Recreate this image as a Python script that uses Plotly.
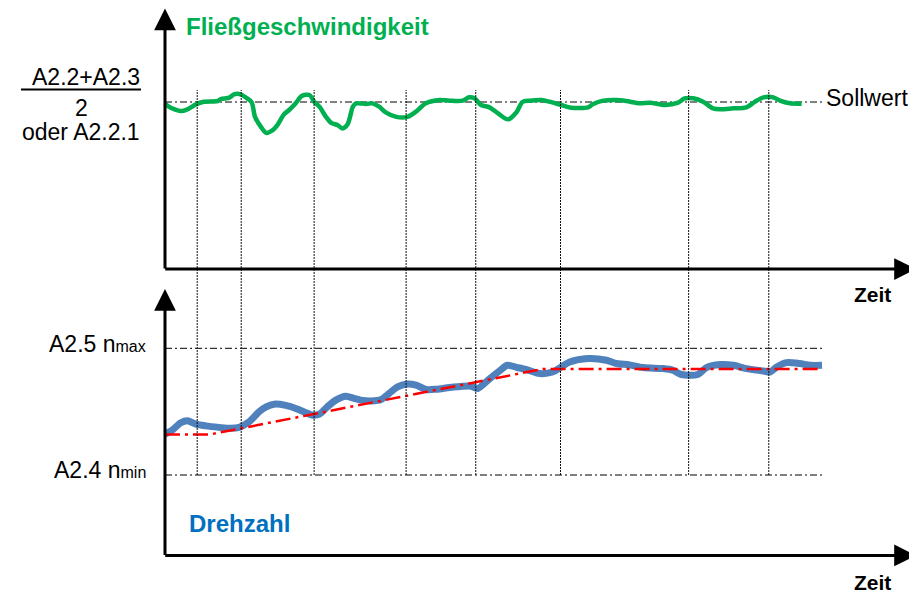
import plotly.graph_objects as go

# ---------------- data ----------------
# time in % of the recorded interval (0 .. 100)
flow_t = [0, 0.6, 2.4, 3.4, 4.7, 5.9, 8.0, 8.5, 9.8, 10.5, 11.5, 12.5, 13.2, 13.7, 14.6,
          15.4, 16.4, 17.1, 18.1, 18.9, 19.9, 20.8, 22.0, 22.7, 23.5, 24.5, 25.3, 26.3,
          27.0, 27.8, 28.6, 29.1, 30.6, 31.6, 32.6, 33.6, 35.2, 36.9, 38.2, 39.7, 41.8,
          43.3, 45.3, 46.3, 47.1, 48.1, 49.4, 50.7, 52.2, 53.5, 54.4, 55.5, 57.3, 58.5,
          60.3, 61.8, 64.4, 65.1, 66.7, 68.7, 70.2, 72.3, 73.8, 76.1, 78.1, 79.1, 80.4,
          81.9, 83.4, 84.5, 86.5, 88.5, 89.8, 91.1, 92.6, 93.6, 95.1, 96.9]
# flow velocity in % of the set value (Sollwert = 100)
flow_v = [99.2, 97.2, 94.6, 95.6, 98.6, 100.2, 100.6, 101.8, 102.6, 104.6, 104.6, 102.2,
          99.8, 91.1, 85.1, 81.5, 83.1, 86.1, 92.6, 95.2, 99.2, 103.6, 104.2, 100.2, 97.2,
          91.1, 87.5, 86.1, 84.2, 86.7, 97.2, 99.2, 98.8, 99.2, 97.2, 93.8, 91.1, 91.1,
          94.2, 99.2, 101.2, 100.8, 100.8, 102.8, 102.2, 98.2, 96.8, 93.2, 89.6, 93.9,
          100.0, 100.8, 101.2, 100.2, 98.2, 96.6, 96.8, 98.6, 100.8, 101.2, 100.6, 99.2,
          99.6, 98.2, 99.6, 102.2, 102.2, 100.2, 96.2, 95.6, 96.2, 96.8, 100.2, 102.8,
          102.8, 100.8, 99.2, 99.0]

speed_t = [0, 1.1, 2.4, 3.4, 4.7, 6.2, 8.2, 10.0, 11.3, 12.8, 14.3, 15.4, 16.6, 18.4,
           19.9, 21.2, 22.5, 23.5, 24.7, 26.0, 27.5, 28.8, 29.8, 31.4, 32.9, 34.1, 35.4,
           36.7, 38.2, 39.7, 41.3, 43.3, 45.3, 46.6, 47.6, 48.6, 49.9, 50.9, 52.1, 53.5,
           55.0, 57.0, 59.0, 60.3, 61.6, 64.4, 67.2, 68.7, 70.7, 72.8, 75.8, 77.3, 78.6,
           81.1, 82.4, 84.5, 86.5, 88.5, 91.1, 92.1, 93.1, 94.6, 96.6, 98.2, 100]
# speed in % between n_min (0) and n_max (100)
speed_n = [32.3, 35.4, 41.2, 42.8, 40.2, 38.8, 37.6, 36.8, 37.6, 42.0, 49.8, 53.8, 55.9,
           54.9, 52.5, 49.8, 47.2, 48.0, 53.8, 59.1, 62.2, 60.4, 59.1, 58.5, 59.6, 64.3,
           69.5, 71.7, 70.9, 67.5, 67.7, 69.1, 70.1, 70.1, 68.3, 72.2, 78.0, 82.1, 86.6,
           85.0, 83.2, 80.1, 81.3, 85.3, 89.2, 91.9, 90.6, 88.0, 86.9, 84.8, 84.0, 82.7,
           79.3, 79.3, 84.8, 87.2, 86.6, 84.0, 82.1, 81.3, 85.3, 88.7, 88.0, 86.6, 86.6]

target_t = [0, 6.85, 57.5, 100]
target_n = [32.0, 32.0, 83.7, 83.7]

mark_times = [4.9, 11.6, 22.7, 36.7, 47.3, 60.2, 79.7, 91.9]

SOLLWERT = 100
N_MIN, N_MAX = 0, 100
T_END = 100

# ---------------- styling / layout ----------------
W, H = 909, 593
FONT = "Liberation Sans, Arial, sans-serif"
GREEN = "#00B050"
BLUE_TXT = "#0070C0"
BLUE = "#4F81BD"
RED = "#FF0000"

# axis placement on the page (pixels) and scales (pixels per unit)
X0_PX, X_SCALE = 165, 6.57
Y1_ZERO_PX, Y1_SCALE = 269, 1.67
Y2_ZERO_PX, Y2_SCALE = 475, 1.267

X_RANGE = [-X0_PX / X_SCALE, (W - X0_PX) / X_SCALE]
Y1_RANGE = [(Y1_ZERO_PX - H) / Y1_SCALE, Y1_ZERO_PX / Y1_SCALE]
Y2_RANGE = [(Y2_ZERO_PX - H) / Y2_SCALE, Y2_ZERO_PX / Y2_SCALE]


def to_paper(v, r):
    return (v - r[0]) / (r[1] - r[0])


fig = go.Figure()

# reference lines
ref_dash = "7px,3px,2px,3px"
fig.add_trace(go.Scatter(x=[0, T_END], y=[SOLLWERT, SOLLWERT], mode="lines",
                         line=dict(color="black", width=1, dash=ref_dash),
                         xaxis="x", yaxis="y", hoverinfo="skip"))
for n in (N_MIN, N_MAX):
    fig.add_trace(go.Scatter(x=[0, T_END], y=[n, n], mode="lines",
                             line=dict(color="black", width=1, dash=ref_dash),
                             xaxis="x", yaxis="y2", hoverinfo="skip"))

# vertical time markers spanning both panels
top_end = to_paper(107.2, Y1_RANGE)
bot_end = to_paper(N_MIN, Y2_RANGE)
for t in mark_times:
    fig.add_shape(type="line", xref="x", yref="paper", x0=t, x1=t,
                  y0=bot_end, y1=top_end,
                  line=dict(color="#111111", width=1, dash="2px,1px"))

# curves
fig.add_trace(go.Scatter(x=flow_t, y=flow_v, mode="lines",
                         line=dict(color=GREEN, width=4.5, shape="spline", smoothing=0.8),
                         xaxis="x", yaxis="y"))
fig.add_trace(go.Scatter(x=speed_t, y=speed_n, mode="lines",
                         line=dict(color=BLUE, width=7, shape="spline", smoothing=0.8),
                         xaxis="x", yaxis="y2"))
fig.add_trace(go.Scatter(x=target_t, y=target_n, mode="lines",
                         line=dict(color=RED, width=2.5, dash="15px,5px,3px,5px"),
                         xaxis="x", yaxis="y2"))

# axes with arrow heads (time arrows run past the right edge, as in the original)
arrow = dict(showarrow=True, arrowhead=2, arrowsize=1.45, arrowwidth=3,
             arrowcolor="black", text="", standoff=0, startstandoff=0)
fig.add_annotation(x=114.3, y=0, ax=-0.2, ay=0, xref="x", yref="y",
                   axref="x", ayref="y", **arrow)
fig.add_annotation(x=0, y=156.0, ax=0, ay=-0.6, xref="x", yref="y",
                   axref="x", ayref="y", **arrow)
fig.add_annotation(x=114.3, y=-63.5, ax=-0.2, ay=-63.5, xref="x", yref="y2",
                   axref="x", ayref="y2", **arrow)
fig.add_annotation(x=0, y=146.8, ax=0, ay=-64.3, xref="x", yref="y2",
                   axref="x", ayref="y2", **arrow)


def label(text, px, py, size, color="black", xanchor="left"):
    fig.add_annotation(x=px / W, y=1 - py / H, xref="paper", yref="paper",
                       text=text, showarrow=False, xanchor=xanchor, yanchor="middle",
                       font=dict(family=FONT, size=size, color=color))


label("<b>Fließgeschwindigkeit</b>", 184, 27, 24, GREEN)
label("<b>Drehzahl</b>", 187, 523, 24, BLUE_TXT)
label("<b>Zeit</b>", 852, 295, 21)
label("<b>Zeit</b>", 852, 582, 21)
label("Sollwert", 824, 98, 23)
label("A2.2+A2.3", 142, 77, 23, xanchor="right")
label("2", 81, 108, 23, xanchor="center")
label("oder A2.2.1", 142, 132, 23, xanchor="right")
label('A2.5 n<span style="font-size:16px">max</span>', 148, 344, 23, xanchor="right")
label('A2.4 n<span style="font-size:16px">min</span>', 148, 470, 23, xanchor="right")

# fraction bar
fig.add_shape(type="line", xref="paper", yref="paper",
              x0=21 / W, x1=141 / W, y0=1 - 89.5 / H, y1=1 - 89.5 / H,
              line=dict(color="black", width=2))

hidden = dict(visible=False, showgrid=False, zeroline=False, fixedrange=True)
fig.update_layout(
    width=W, height=H, autosize=False,
    margin=dict(l=0, r=0, t=0, b=0),
    paper_bgcolor="white", plot_bgcolor="white",
    showlegend=False,
    xaxis=dict(range=X_RANGE, domain=[0, 1], anchor="y", **hidden),
    yaxis=dict(range=Y1_RANGE, domain=[0, 1], anchor="x", **hidden),
    yaxis2=dict(range=Y2_RANGE, domain=[0, 1], anchor="x", overlaying="y", **hidden),
)

# the figure fills the whole page, so drop the browser's default body margin
fig.write_html("out.html",
               config={"displayModeBar": False},
               post_script="document.body.style.margin='0';"
                           "document.body.style.overflow='hidden';")
